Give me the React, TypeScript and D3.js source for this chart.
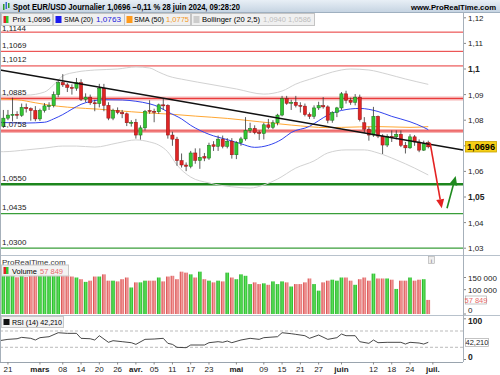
import React from "react";
import * as d3 from "d3";

// EUR/USD daily, 20 Feb 2024 (index 0) -> 28 Jun 2024 (index 93)
const opens = [1.0776, 1.0808, 1.082, 1.0823, 1.0819, 1.085, 1.0845, 1.0838, 1.0805, 1.0838, 1.0855, 1.0857, 1.09, 1.0947, 1.0938, 1.0928, 1.0925, 1.0947, 1.0882, 1.089, 1.0868, 1.0865, 1.0925, 1.0858, 1.0808, 1.0838, 1.083, 1.0825, 1.079, 1.0792, 1.0742, 1.077, 1.0838, 1.0835, 1.0833, 1.086, 1.0858, 1.0742, 1.0726, 1.0642, 1.0625, 1.062, 1.0672, 1.0643, 1.0658, 1.0652, 1.0704, 1.0698, 1.0726, 1.0698, 1.0718, 1.0665, 1.0712, 1.0727, 1.076, 1.0768, 1.0752, 1.0748, 1.0782, 1.0772, 1.079, 1.082, 1.0884, 1.0866, 1.087, 1.0858, 1.0855, 1.0822, 1.0815, 1.0848, 1.0857, 1.0852, 1.08, 1.083, 1.0848, 1.0903, 1.0878, 1.087, 1.089, 1.079, 1.0765, 1.0742, 1.0815, 1.0738, 1.0703, 1.0737, 1.0735, 1.0745, 1.0702, 1.0692, 1.0735, 1.0715, 1.0683, 1.0712];
const highs = [1.084, 1.084, 1.0888, 1.0835, 1.0865, 1.0865, 1.085, 1.0855, 1.0845, 1.0867, 1.087, 1.0912, 1.0955, 1.098, 1.0945, 1.094, 1.0965, 1.096, 1.0905, 1.09, 1.088, 1.0942, 1.0942, 1.087, 1.0845, 1.085, 1.084, 1.083, 1.08, 1.0805, 1.078, 1.084, 1.0878, 1.0845, 1.0865, 1.0885, 1.0862, 1.0755, 1.0735, 1.067, 1.0635, 1.068, 1.069, 1.069, 1.0672, 1.0712, 1.0718, 1.074, 1.074, 1.073, 1.073, 1.0718, 1.0735, 1.0812, 1.079, 1.078, 1.076, 1.079, 1.0805, 1.08, 1.0825, 1.0895, 1.0895, 1.088, 1.0895, 1.087, 1.0865, 1.083, 1.0858, 1.0872, 1.089, 1.0858, 1.0835, 1.0852, 1.091, 1.0915, 1.0888, 1.0902, 1.09, 1.0812, 1.0775, 1.0852, 1.0818, 1.0745, 1.0745, 1.076, 1.076, 1.076, 1.0715, 1.0745, 1.0742, 1.0725, 1.072, 1.072];
const lows = [1.077, 1.08, 1.0795, 1.0805, 1.0813, 1.083, 1.0798, 1.0796, 1.0797, 1.083, 1.084, 1.085, 1.089, 1.093, 1.091, 1.09, 1.0915, 1.0875, 1.087, 1.086, 1.0835, 1.085, 1.0835, 1.08, 1.08, 1.0823, 1.0808, 1.0777, 1.0775, 1.0728, 1.0724, 1.076, 1.0825, 1.0792, 1.0825, 1.084, 1.0728, 1.07, 1.0622, 1.0615, 1.0601, 1.0612, 1.063, 1.061, 1.064, 1.0645, 1.068, 1.068, 1.069, 1.069, 1.065, 1.0648, 1.07, 1.072, 1.075, 1.0745, 1.0723, 1.0725, 1.0765, 1.0765, 1.078, 1.0815, 1.086, 1.084, 1.085, 1.083, 1.0815, 1.0805, 1.0805, 1.084, 1.0845, 1.0788, 1.079, 1.0812, 1.084, 1.0865, 1.086, 1.0858, 1.0795, 1.075, 1.072, 1.0735, 1.073, 1.0668, 1.0695, 1.0715, 1.0725, 1.0695, 1.067, 1.0688, 1.07, 1.0675, 1.068, 1.069];
const closes = [1.0808, 1.082, 1.0823, 1.0819, 1.085, 1.0845, 1.0838, 1.0805, 1.0838, 1.0856, 1.0857, 1.09, 1.0947, 1.0938, 1.0928, 1.0925, 1.0947, 1.0882, 1.089, 1.0868, 1.0865, 1.0925, 1.0858, 1.0808, 1.0838, 1.083, 1.0825, 1.079, 1.0792, 1.0742, 1.077, 1.0835, 1.0835, 1.0833, 1.086, 1.0856, 1.0742, 1.0726, 1.0642, 1.0625, 1.062, 1.0672, 1.0643, 1.0655, 1.0652, 1.0702, 1.0698, 1.0726, 1.0698, 1.0718, 1.0665, 1.0712, 1.0727, 1.076, 1.0768, 1.0752, 1.0748, 1.0782, 1.0772, 1.079, 1.082, 1.0884, 1.0866, 1.087, 1.0858, 1.0855, 1.0822, 1.0815, 1.0848, 1.0857, 1.0852, 1.08, 1.083, 1.0848, 1.0903, 1.0878, 1.087, 1.089, 1.0802, 1.0765, 1.0742, 1.0815, 1.0738, 1.0703, 1.0737, 1.0735, 1.0745, 1.0702, 1.0692, 1.0735, 1.0715, 1.0683, 1.0708, 1.0696];
const volumes = [165000, 168000, 172000, 151000, 165000, 152000, 163000, 160000, 166000, 162000, 160000, 168000, 172000, 165000, 161000, 154000, 150000, 143000, 132000, 137000, 154000, 154000, 163000, 137000, 137000, 134000, 143000, 150000, 109000, 130000, 130000, 137000, 137000, 137000, 150000, 134000, 154000, 157000, 143000, 174000, 170000, 163000, 150000, 174000, 143000, 137000, 130000, 137000, 134000, 170000, 150000, 143000, 163000, 157000, 123000, 130000, 123000, 126000, 120000, 134000, 123000, 134000, 130000, 113000, 123000, 123000, 130000, 146000, 123000, 96000, 130000, 137000, 141000, 137000, 150000, 150000, 137000, 120000, 143000, 150000, 137000, 166000, 146000, 146000, 146000, 141000, 103000, 137000, 137000, 150000, 137000, 141000, 143000, 57849];

// indicator lines: [candle index, value]
const sma20: [number, number][] = [[-1, 1.0792], [0, 1.0791], [5, 1.0789], [9, 1.0792], [11, 1.0805], [13, 1.0822], [15, 1.0843], [17, 1.0862], [19, 1.0873], [22, 1.088], [26, 1.0879], [29, 1.0874], [32, 1.0864], [34, 1.0852], [36, 1.0832], [39, 1.0805], [41, 1.078], [45, 1.0745], [49, 1.0724], [52, 1.0708], [55, 1.0694], [58, 1.0702], [61, 1.0726], [63, 1.0752], [67, 1.0776], [69, 1.0798], [71, 1.082], [74, 1.0838], [78, 1.0846], [82, 1.0834], [85, 1.0815], [89, 1.0794], [92, 1.0772], [93, 1.0763]];
const sma50: [number, number][] = [[-1, 1.0883], [3, 1.088], [7, 1.0868], [10, 1.0859], [14, 1.0851], [18, 1.0846], [21, 1.0843], [25, 1.0837], [28, 1.0833], [32, 1.0828], [37, 1.0823], [42, 1.0816], [49, 1.0807], [56, 1.0794], [63, 1.0781], [71, 1.0771], [74, 1.0772], [82, 1.0775], [89, 1.0772], [93, 1.0775]];
const bbUpper: [number, number][] = [[-1, 1.0898], [0, 1.0898], [5, 1.0898], [9, 1.091], [11, 1.0938], [13, 1.0973], [16, 1.0988], [20, 1.0996], [25, 1.1], [29, 1.1008], [32, 1.1004], [34, 1.0988], [36, 1.0973], [40, 1.0957], [45, 1.0941], [51, 1.0922], [57, 1.0902], [61, 1.0914], [64, 1.0941], [68, 1.0965], [72, 1.0988], [76, 1.1], [80, 1.0996], [84, 1.098], [88, 1.0961], [93, 1.094]];
const bbLower: [number, number][] = [[-1, 1.0677], [0, 1.0677], [5, 1.0684], [9, 1.0691], [13, 1.0699], [16, 1.0699], [20, 1.0695], [25, 1.0711], [29, 1.0723], [32, 1.0715], [34, 1.0703], [36, 1.0676], [38, 1.0625], [41, 1.0578], [45, 1.0555], [50, 1.054], [54, 1.0535], [57, 1.0547], [60, 1.057], [64, 1.0613], [68, 1.0641], [71, 1.0672], [75, 1.0684], [79, 1.0684], [82, 1.0672], [86, 1.0645], [90, 1.0613], [93, 1.0586]];
const rsi: [number, number][] = [[-1, 46], [1, 49.5], [3, 51], [4, 54.4], [6, 52], [7, 47.9], [8, 53.6], [10, 56], [12, 65.8], [14, 64.2], [16, 64.3], [17, 52], [19, 51], [20, 47.9], [21, 58.5], [23, 42.2], [24, 46.2], [26, 43.8], [28, 41.3], [29, 37.2], [31, 49.5], [33, 50.3], [35, 52], [36, 39.7], [37, 37.2], [38, 29.9], [40, 29], [41, 35.6], [44, 35.6], [45, 41.3], [47, 43.8], [48, 42.2], [49, 45.4], [50, 41.3], [52, 47.9], [54, 52], [56, 49.5], [57, 53.6], [60, 56], [61, 65.8], [63, 63.4], [64, 61.8], [66, 58.5], [67, 52], [69, 60.1], [71, 49.5], [73, 53.6], [74, 62.6], [75, 58.5], [77, 58.5], [78, 43.8], [80, 39.7], [81, 47.9], [82, 41.3], [84, 42.2], [87, 42.2], [88, 38], [89, 42.2], [91, 40.5], [92, 38], [93, 42.21]];

const redLevels = [1.1144, 1.1069, 1.1012, 1.0885, 1.0758];
const glowLevels = [1.0885, 1.0758];
const greenLevels = [1.055, 1.0435, 1.03];
const trendLine: [number, number][] = [[-0.74, 1.0996], [100.6, 1.0684]];
const arrowDown: [number, number][] = [[93.4, 1.0711], [95.95, 1.0456]];
const arrowUp: [number, number][] = [[97.1, 1.0456], [99.0, 1.0582]];

const priceTicks = [1.03, 1.04, 1.05, 1.06, 1.07, 1.08, 1.09, 1.1, 1.11, 1.12];
const boldTicks = [1.05, 1.1];
const volTicks = [150000, 100000, 0];
const rsiTicks = [100, 0];
const rsiBands = [70, 30];
const dateIdx = [1, 8, 13, 17, 21, 25, 29, 33, 37, 41, 45, 51, 57, 61, 65, 69, 74, 81, 85, 89, 94];
const dateLabels = ["21", "mars", "08", "14", "20", "26", "avr.", "05", "11", "17", "23", "mai", "09", "15", "21", "27", "juin", "12", "18", "24", "juil."];
const monthLabels = ["mars", "avr.", "mai", "juin", "juil."];

const AX = 463;
const FONT = "Liberation Sans, Arial, sans-serif";
const fr = (v: number, d: number) => v.toFixed(d).replace(".", ",");

const x = d3.scaleLinear().domain([-0.74, 100.6]).range([0, AX]);
const y = d3.scaleLinear().domain([1.03, 1.12]).range([248.2, 17.8]);
const yV = d3.scaleLinear().domain([0, 150000]).range([314, 277.5]);
const yR = d3.scaleLinear().domain([0, 100]).range([359.5, 318.8]);

const pLine = d3.line<[number, number]>().x((d) => x(d[0])).y((d) => y(d[1])).curve(d3.curveMonotoneX);
const rLine = d3.line<[number, number]>().x((d) => x(d[0])).y((d) => yR(d[1]));

function Arrow({ pts, color }: { pts: [number, number][]; color: string }) {
  const [x1, y1, x2, y2] = [x(pts[0][0]), y(pts[0][1]), x(pts[1][0]), y(pts[1][1])];
  const len = Math.hypot(x2 - x1, y2 - y1);
  const ux = (x2 - x1) / len, uy = (y2 - y1) / len;
  const bx = x2 - ux * 9, by = y2 - uy * 9;
  const head = `M${x2},${y2}L${bx - uy * 4},${by + ux * 4}L${bx + uy * 4},${by - ux * 4}Z`;
  return (
    <g>
      <line x1={x1} y1={y1} x2={bx} y2={by} stroke={color} strokeWidth={1.6} />
      <path d={head} fill={color} />
    </g>
  );
}

export default function App() {
  const up = closes.map((c, i) => c >= opens[i]);
  const bw = 3.2;
  const last = closes[closes.length - 1];
  return (
    <div style={{ position: "absolute", left: 0, top: 0 }}>
      <svg width={500} height={375} style={{ display: "block", fontFamily: FONT }}>
        <defs>
          <linearGradient id="hdr" x1="0" y1="0" x2="0" y2="1">
            <stop offset="0" stopColor="#e8eff6" />
            <stop offset="1" stopColor="#c6d4e2" />
          </linearGradient>
          <linearGradient id="vg" x1="0" y1="0" x2="1" y2="0">
            <stop offset="0" stopColor="#1aa51a" />
            <stop offset="0.5" stopColor="#5fe25f" />
            <stop offset="1" stopColor="#22b822" />
          </linearGradient>
          <linearGradient id="vr" x1="0" y1="0" x2="1" y2="0">
            <stop offset="0" stopColor="#d23a3a" />
            <stop offset="0.5" stopColor="#f4a0a0" />
            <stop offset="1" stopColor="#e06a6a" />
          </linearGradient>
          <clipPath id="main">
            <rect x={0} y={12} width={AX} height={243} />
          </clipPath>
        </defs>
        <rect width={500} height={375} fill="#fff" />

        {/* main panel */}
        <g clipPath="url(#main)">
          {glowLevels.map((v) => (
            <line key={"g" + v} x1={0} x2={AX} y1={y(v)} y2={y(v)} stroke="#f6b4b4" strokeWidth={4} />
          ))}
          {redLevels.map((v) => (
            <line key={"r" + v} x1={0} x2={AX} y1={y(v)} y2={y(v)} stroke="#e83434" strokeWidth={1} />
          ))}
          {greenLevels.map((v, i) => (
            <line key={"gr" + v} x1={0} x2={AX} y1={y(v)} y2={y(v)} stroke={i === 0 ? "#1d861d" : "#3a9e3a"} strokeWidth={i === 0 ? 2.6 : 1.3} />
          ))}
          <path d={pLine(bbUpper) || ""} fill="none" stroke="#d2d2d2" strokeWidth={1} />
          <path d={pLine(bbLower) || ""} fill="none" stroke="#d2d2d2" strokeWidth={1} />
          <path d={pLine(sma50) || ""} fill="none" stroke="#ffa733" strokeWidth={1} />
          <path d={pLine(sma20) || ""} fill="none" stroke="#3344ee" strokeWidth={1} />
          {opens.map((o, i) => {
            const cx = x(i);
            const top = y(Math.max(o, closes[i]));
            const h = Math.max(1, y(Math.min(o, closes[i])) - top);
            return (
              <g key={i}>
                <line x1={cx} x2={cx} y1={y(highs[i])} y2={y(lows[i])} stroke="#333" strokeWidth={0.8} />
                <rect x={cx - bw / 2} y={top} width={bw} height={h} fill={up[i] ? "#33c633" : "#e02424"} stroke={up[i] ? "#1b6e1b" : "#8e1414"} strokeWidth={0.5} />
              </g>
            );
          })}
          <path d={d3.line()(trendLine.map((d) => [x(d[0]), y(d[1])]) as [number, number][]) || ""} stroke="#111" strokeWidth={1.5} fill="none" />
          <Arrow pts={arrowDown} color="#e42222" />
          <Arrow pts={arrowUp} color="#1f8a1f" />
        </g>
        {[...redLevels, ...greenLevels].map((v) => (
          <text key={"lab" + v} x={2} y={Math.max(y(v) - 3.5, 31)} fontSize={8} fill="#222">
            {fr(v, 4)}
          </text>
        ))}

        {/* header */}
        <rect x={0} y={0} width={500} height={12} fill="url(#hdr)" />
        <line x1={0} x2={500} y1={12.5} y2={12.5} stroke="#9fb0c0" />
        <rect x={3} y={4} width={1.5} height={6} fill="#2a9a2a" />
        <rect x={5.5} y={2} width={1.5} height={7} fill="#3a6ad0" />
        <rect x={8} y={3} width={1.5} height={5} fill="#2a9a2a" />
        <text x={13} y={9.5} fontSize={8.5} fontWeight="bold" textLength={227} lengthAdjust="spacingAndGlyphs">
          Spot EUR/USD Journalier 1,0696 −0,11 % 28 juin 2024, 09:28:20
        </text>
        <text x={496} y={9.5} fontSize={8} fontWeight="bold" textAnchor="end" textLength={85} lengthAdjust="spacingAndGlyphs">
          www.ProRealTime.com
        </text>

        {/* legend row */}
        <rect x={1.5} y={13.5} width={51} height={12} fill="#f0f0f0" stroke="#c4c4c4" />
        <rect x={3.5} y={16} width={2.5} height={7} fill="#e02424" />
        <rect x={6} y={16} width={2.5} height={7} fill="#33c633" />
        <text x={12.5} y={22} fontSize={8} textLength={38} lengthAdjust="spacingAndGlyphs">Prix 1,0696</text>
        <rect x={53.5} y={13.5} width={71} height={12} fill="#f0f0f0" stroke="#c4c4c4" />
        <rect x={55.5} y={16} width={6} height={7} fill="#1a1aee" />
        <text x={64} y={22} fontSize={8} textLength={29} lengthAdjust="spacingAndGlyphs">SMA (20)</text>
        <text x={96} y={22} fontSize={8} fill="#2222dd" textLength={25} lengthAdjust="spacingAndGlyphs">1,0763</text>
        <rect x={124.5} y={13.5} width={66} height={12} fill="#f0f0f0" stroke="#c4c4c4" />
        <rect x={126.5} y={16} width={6} height={7} fill="#ff9a1a" />
        <text x={134} y={22} fontSize={8} textLength={30} lengthAdjust="spacingAndGlyphs">SMA (50)</text>
        <text x={166} y={22} fontSize={8} fill="#f39a1e" textLength={23} lengthAdjust="spacingAndGlyphs">1,0775</text>
        <rect x={191.5} y={13.5} width={123} height={12} fill="#f0f0f0" stroke="#c4c4c4" />
        <rect x={193.5} y={16} width={6} height={7} fill="#cccccc" />
        <text x={202} y={22} fontSize={8} textLength={58} lengthAdjust="spacingAndGlyphs">Bollinger (20 2,5)</text>
        <text x={263} y={22} fontSize={8} fill="#bdbdbd" textLength={48} lengthAdjust="spacingAndGlyphs">1,0940 1,0586</text>

        {/* price axis; the 1,07 label sits under the last-price box */}
        {priceTicks.map((v) => (
          <g key={"pt" + v}>
            <line x1={AX} x2={AX + 3} y1={y(v)} y2={y(v)} stroke="#888" />
            {Math.abs(y(v) - y(last)) > 7 && (
              <text x={AX + 5} y={y(v) + 3} fontSize={boldTicks.includes(v) ? 8.5 : 8} fontWeight={boldTicks.includes(v) ? "bold" : "normal"} fill="#222">
                {v === 1.1 ? "1,1" : fr(v, 2)}
              </text>
            )}
          </g>
        ))}
        <rect x={465.5} y={141.5} width={31} height={10.5} fill="#f6cf16" stroke="#c9a200" strokeWidth={0.8} />
        <text x={481} y={150} fontSize={8.5} fontWeight="bold" textAnchor="middle" textLength={28} lengthAdjust="spacingAndGlyphs">
          {fr(last, 4)}
        </text>

        {/* volume panel */}
        <line x1={0} x2={500} y1={255.5} y2={255.5} stroke="#b8c2cc" />
        {volumes.map((v, i) => (
          <rect key={"v" + i} x={x(i) - 1.8} y={yV(v)} width={3.6} height={yV(0) - yV(v)} fill={up[i] ? "url(#vg)" : "url(#vr)"} />
        ))}
        <text x={2} y={264.5} fontSize={8} fill="#333">ProRealTime.com</text>
        <rect x={428.5} y={256.5} width={6} height={7} fill="#eee" stroke="#aaa" strokeWidth={0.6} />
        <text x={431.5} y={262.5} fontSize={6} textAnchor="middle" fill="#666">i</text>
        <rect x={1.5} y={265} width={67} height={11} fill="#f2f2f2" fillOpacity={0.96} stroke="#c8c8c8" />
        <rect x={3.5} y={267} width={2.5} height={7} fill="#e02424" />
        <rect x={6} y={267} width={2.5} height={7} fill="#33c633" />
        <text x={12} y={273.5} fontSize={8} textLength={25} lengthAdjust="spacingAndGlyphs">Volume</text>
        <text x={40} y={273.5} fontSize={8} fill="#e86a6a" textLength={23} lengthAdjust="spacingAndGlyphs">57 849</text>
        {volTicks.map((v) => (
          <g key={"vt" + v}>
            <line x1={AX} x2={AX + 3} y1={yV(v)} y2={yV(v)} stroke="#888" />
            <text x={AX + 5} y={(v === 0 ? yV(v) - 4 : yV(v)) + 3} fontSize={8} fill="#222">
              {d3.format(",")(v).replace(",", " ")}
            </text>
          </g>
        ))}
        <rect x={465.5} y={296} width={21} height={8} fill="#fff" stroke="#aaa" strokeWidth={0.7} />
        <text x={476} y={302.8} fontSize={7.5} fill="#e86a6a" textAnchor="middle">57 849</text>

        {/* RSI panel */}
        <line x1={0} x2={500} y1={315.5} y2={315.5} stroke="#b8c2cc" />
        {rsiBands.map((v) => (
          <line key={"rb" + v} x1={0} x2={AX} y1={yR(v)} y2={yR(v)} stroke="#aaa" strokeDasharray="3,2" strokeWidth={0.8} />
        ))}
        <path d={rLine(rsi) || ""} fill="none" stroke="#333" strokeWidth={0.9} />
        <rect x={1.5} y={316.5} width={62} height={11} fill="#f2f2f2" stroke="#c8c8c8" />
        <rect x={3.5} y={319} width={6} height={6} fill="#111" />
        <text x={12} y={325} fontSize={8} textLength={50} lengthAdjust="spacingAndGlyphs">RSI (14) 42,210</text>
        {rsiTicks.map((v) => (
          <g key={"rt" + v}>
            <line x1={AX} x2={AX + 3} y1={yR(v)} y2={yR(v)} stroke="#888" />
            <text x={AX + 5} y={Math.min(357, Math.max(321, yR(v))) + 3} fontSize={8.5} fontWeight="bold" fill="#222">
              {v}
            </text>
          </g>
        ))}
        <rect x={465.5} y={338.5} width={23} height={8} fill="#fff" stroke="#aaa" strokeWidth={0.7} />
        <text x={477} y={345.3} fontSize={7.5} textAnchor="middle" fill="#222">42,210</text>

        {/* date axis */}
        <line x1={0} x2={AX} y1={362.5} y2={362.5} stroke="#9aa4ae" />
        {dateIdx.map((d, k) => (
          <g key={"d" + k}>
            <line x1={x(d)} x2={x(d)} y1={362} y2={364.5} stroke="#888" />
            <text x={x(d)} y={371.5} fontSize={8} textAnchor="middle" fontWeight={monthLabels.includes(dateLabels[k]) ? "bold" : "normal"} fill="#222">
              {dateLabels[k]}
            </text>
          </g>
        ))}

        {/* frame */}
        <line x1={0.5} x2={0.5} y1={12} y2={362} stroke="#a6b0ba" />
        <line x1={AX + 0.5} x2={AX + 0.5} y1={12} y2={362} stroke="#a6b0ba" />
      </svg>
    </div>
  );
}
